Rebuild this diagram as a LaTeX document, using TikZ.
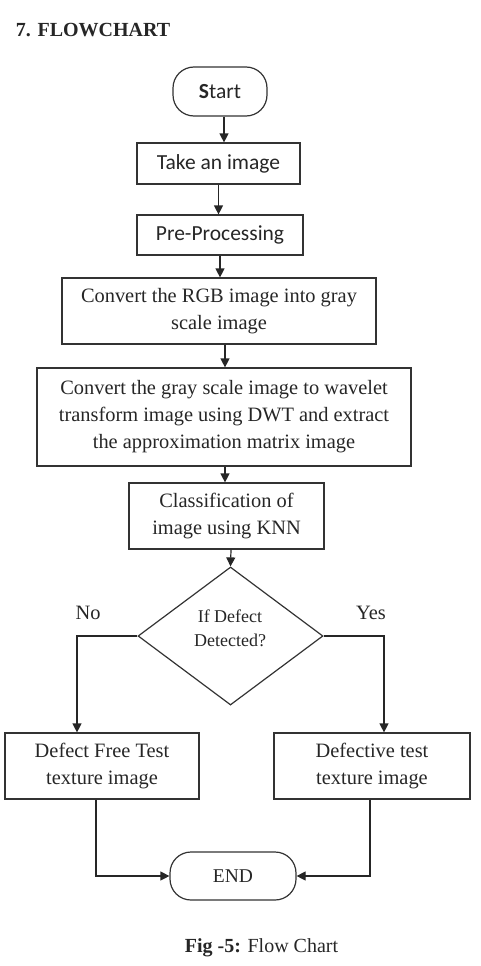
\documentclass[tikz,border=0pt]{standalone}
\usepackage{fontspec}
\setmainfont{Liberation Serif}
\newfontfamily\calib{Carlito}
\usetikzlibrary{arrows.meta,shapes.geometric}
\begin{document}
\begin{tikzpicture}[x=1pt,y=-1pt,
  line width=1.2pt,
  every node/.style={text=black!85},
  box/.style={draw=black!80, rectangle, inner sep=0pt, align=center, font=\fontsize{20.4}{27}\selectfont},
  sbox/.style={draw=black!80, rectangle, inner sep=0pt, align=center, font=\calib\fontsize{21.5}{26}\selectfont},
  term/.style={draw=black!80, rectangle, rounded corners=21pt, inner sep=0pt, align=center},
  arr/.style={draw=black!85, -{Triangle[length=9pt,width=9pt]}},
  ln/.style={draw=black!85}
]
\useasboundingbox (0,0) rectangle (481,966);

\node[anchor=base west, font=\bfseries\fontsize{20}{24}\selectfont] (title) at (12,37) {7. FLOWCHART};

\node[term, minimum width=94pt, minimum height=49pt, font=\calib\fontsize{21.5}{26}\selectfont] (start) at (220,91.5) {\textbf{S}tart};
\node[sbox, minimum width=163pt, minimum height=41pt] (take) at (218.5,163.5) {Take an image};
\node[sbox, minimum width=166pt, minimum height=40pt] (pre) at (220,235) {Pre-Processing};
\node[box, minimum width=314pt, minimum height=66pt] (rgb) at (219,311) {Convert the RGB image into gray\\scale image};
\node[box, minimum width=374pt, minimum height=98pt] (dwt) at (224,417) {Convert the gray scale image to wavelet\\transform image using DWT and extract\\the approximation matrix image};
\node[box, minimum width=195pt, minimum height=66pt] (knn) at (226.5,516) {Classification of\\image using KNN};
\node[draw=black!80, diamond, inner sep=0pt, minimum width=185pt, minimum height=138pt] (dia) at (230.5,636) {};
\node[align=center, font=\fontsize{18}{24}\selectfont] (dtext) at (230,628) {If Defect\\Detected?};
\node[font=\fontsize{20.4}{24}\selectfont] (no) at (88,613) {No};
\node[font=\fontsize{20.4}{24}\selectfont] (yes) at (371,613) {Yes};
\node[box, minimum width=194pt, minimum height=66pt] (left) at (102,766) {Defect Free Test\\texture image};
\node[box, minimum width=196pt, minimum height=66pt] (right) at (372,766) {Defective test\\texture image};
\node[term, minimum width=126pt, minimum height=48pt, font=\fontsize{19.5}{24}\selectfont] (endn) at (233,876) {END};

\node[font=\fontsize{20}{24}\selectfont] (cap) at (261.5,948) {\textbf{Fig -5:} Flow Chart};

\draw[arr] ([xshift=4pt]start.south) -- ([xshift=4pt]start.south |- take.north);
\draw[arr] (take.south) -- (take.south |- pre.north);
\draw[arr] (pre.south) -- (pre.south |- rgb.north);
\draw[arr] ([xshift=6pt]rgb.south) -- ([xshift=6pt]rgb.south |- dwt.north);
\draw[arr] ([xshift=1pt]dwt.south) -- ([xshift=1pt]dwt.south |- knn.north);
\draw[arr] ([xshift=4.5pt]knn.south) -- (dia.north);
\draw[arr] (dia.west) -| ([xshift=-25pt]left.north);
\draw[arr] (dia.east) -| ([xshift=12pt]right.north);
\draw[arr] ([xshift=-6pt]left.south) |- (endn.west);
\draw[arr] ([xshift=-2pt]right.south) |- (endn.east);
\end{tikzpicture}
\end{document}
